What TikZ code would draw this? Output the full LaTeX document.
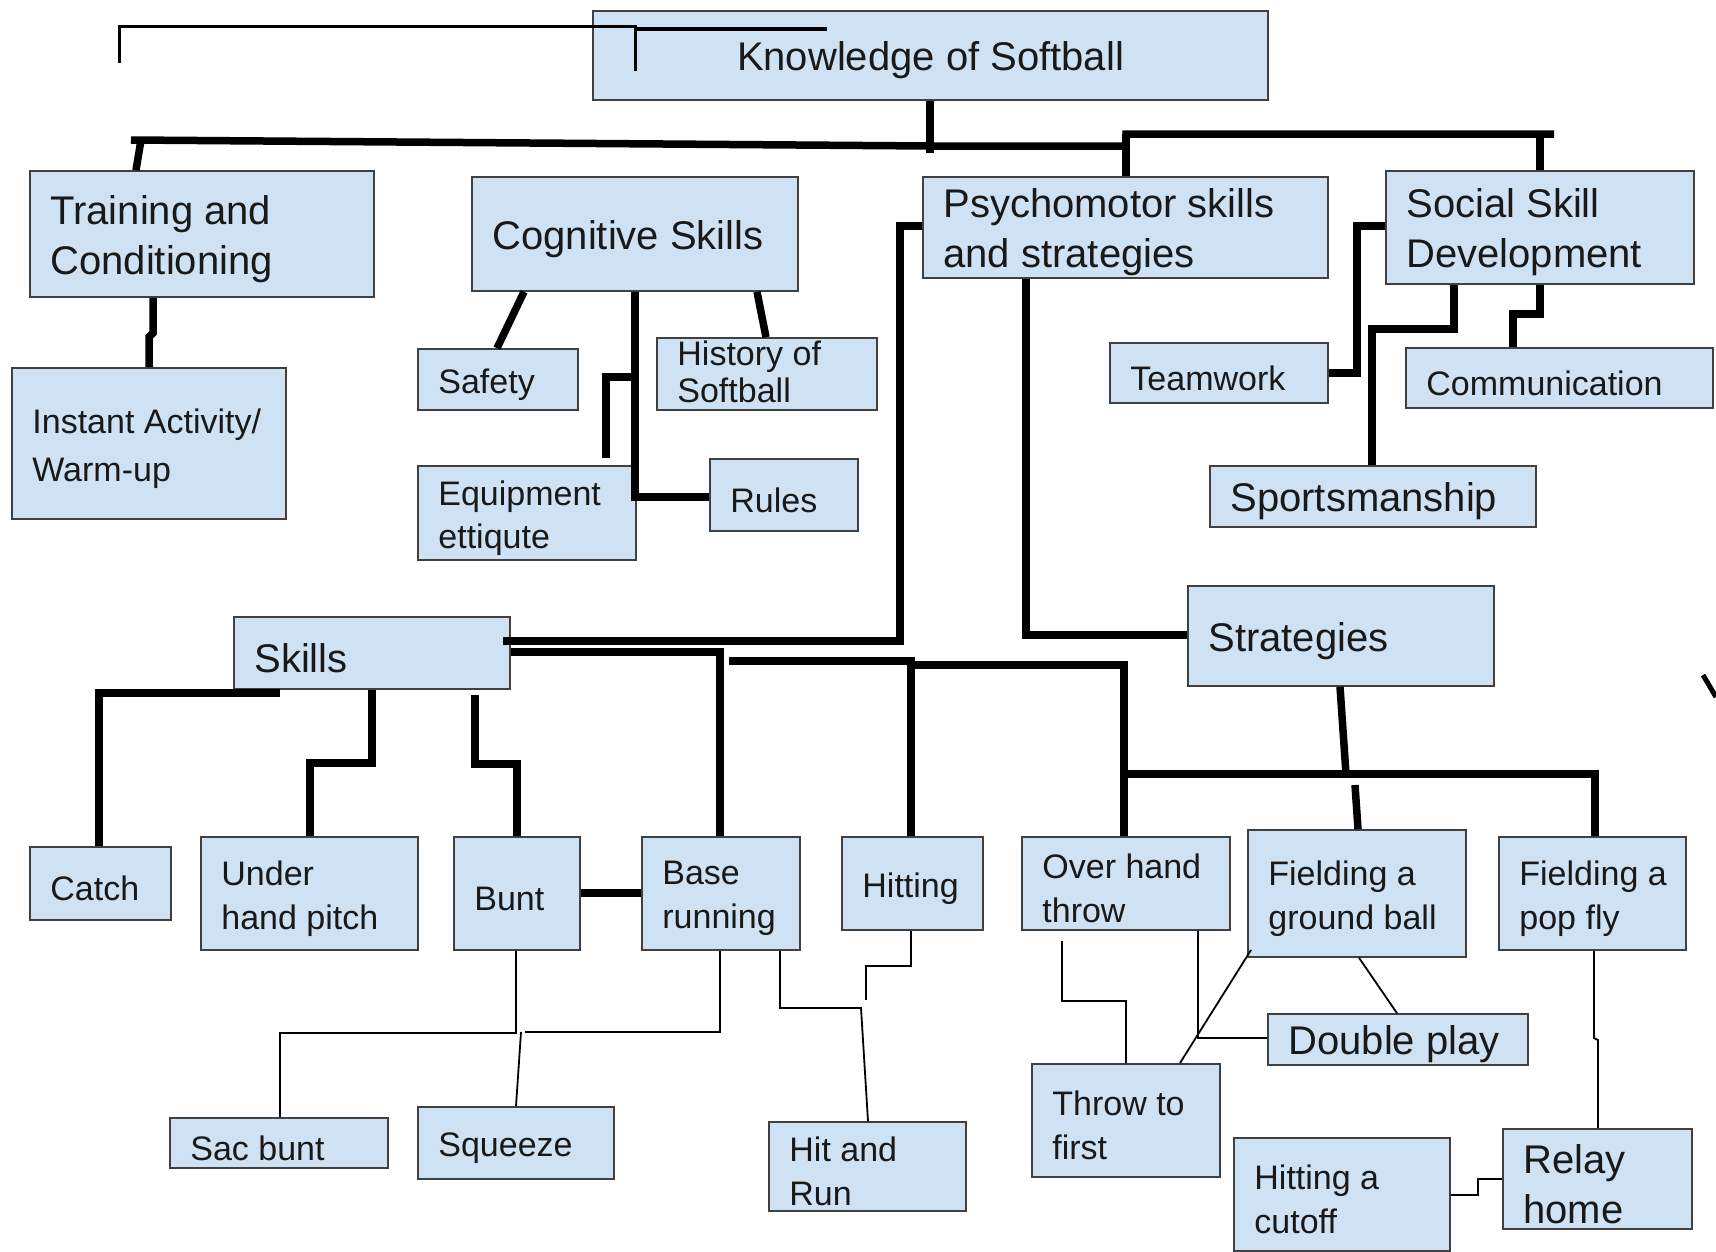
\documentclass[tikz,border=0pt]{standalone}
\usepackage{fontspec}
\setmainfont{Liberation Sans}
\definecolor{boxblue}{HTML}{CFE2F3}
\newcommand\fbig{\fontsize{40}{50}\selectfont}
\newcommand\fsmall{\fontsize{34}{43.5}\selectfont}
\tikzset{
  box/.style={draw=black!75,fill=boxblue,line width=1.6pt,inner sep=0pt},
  lbl/.style={anchor=west,align=left,inner sep=0pt,yshift=-5pt,font=\fsmall,text=black!90},
  thk/.style={line width=7.5pt},
  thn/.style={line width=1.8pt},
}
% box from (x1,y1) to (x2,y2), text 21pt in from the left
\newcommand\bx[7][]{%
  \node[box,minimum width={#5-#3},minimum height={#6-#4}] (#2) at ({(#3+#5)/2},{(#4+#6)/2}) {};
  \node[lbl,#1] (#2t) at ([xshift=21pt]#2.west) {#7};}

\begin{document}
\begin{tikzpicture}[x=1pt,y=-1pt]
  \fill[white] (0,0) rectangle (1716,1251);
  \useasboundingbox (0,0) rectangle (1716,1251);

  \node[box,minimum width=675,minimum height=89] (kn) at (930.5,55.5) {};
  \node[lbl,font=\fbig,anchor=center] (knt) at (kn.center) {Knowledge of Softball};

  \bx[font=\fbig]{trn}{30}{171}{374}{297}{Training and\\Conditioning}
  \bx[font=\fontsize{34}{48}\selectfont]{inst}{12}{368}{286}{519}{Instant Activity/\\Warm-up}
  \bx[font=\fbig]{cog}{472}{177}{798}{291}{Cognitive Skills}
  \bx{saf}{418}{349}{578}{410}{Safety}
  \bx[font=\fontsize{34}{37}\selectfont,yshift=7pt]{hist}{657}{338}{877}{410}{History of\\Softball}
  \bx{equip}{418}{466}{636}{560}{Equipment\\ettiqute}
  \bx{rules}{710}{459}{858}{531}{Rules}
  \bx[font=\fbig]{psy}{923}{177}{1328}{278}{Psychomotor skills\\and strategies}
  \bx[font=\fbig]{soc}{1386}{171}{1694}{284}{Social Skill\\Development}
  \bx{team}{1110}{343}{1328}{403}{Teamwork}
  \bx{comm}{1406}{348}{1713}{408}{Communication}
  \bx[font=\fbig]{sport}{1210}{466}{1536}{527}{Sportsmanship}
  \bx[font=\fbig]{skills}{234}{617}{510}{689}{Skills}
  \bx[font=\fbig]{strat}{1188}{586}{1494}{686}{Strategies}
  \bx{catch}{30}{847}{171}{920}{Catch}
  \bx{under}{201}{837}{418}{950}{Under\\hand pitch}
  \bx{bunt}{454}{837}{580}{950}{Bunt}
  \bx{base}{642}{837}{800}{950}{Base\\running}
  \bx{hit}{842}{837}{983}{930}{Hitting}
  \bx{over}{1022}{837}{1230}{930}{Over hand\\throw}
  \bx{fgb}{1248}{830}{1466}{957}{Fielding a\\ground ball}
  \bx{fpf}{1499}{837}{1686}{950}{Fielding a\\pop fly}
  \bx[font=\fbig]{dbl}{1268}{1014}{1528}{1065}{Double play}
  \bx{throw}{1032}{1064}{1220}{1177}{Throw to\\first}
  \bx{cutoff}{1234}{1138}{1450}{1251}{Hitting a\\cutoff}
  \bx[font=\fbig]{relay}{1503}{1129}{1692}{1229}{Relay\\home}
  \bx{hnr}{769}{1122}{966}{1211}{Hit and\\Run}
  \bx{sac}{170}{1118}{388}{1168}{Sac bunt}
  \bx{sqz}{418}{1107}{614}{1179}{Squeeze}

  % top bus
  \draw[thk] (kn.south -| 930,0) -- (930,153);
  \draw[thk] (131,140) -- (930,146) -- (1126,146) |- (1554,134);
  \draw[thk] (1126,134) -- (psy.north -| 1126,0);
  \draw[thk] (1540,134) -- (soc.north -| 1540,0);
  \draw[thk] (141,140) -- (trn.north -| 136,0);
  \draw[thk] (trn.south -| 153,0) -- (153,333) -- (149,337) -- (inst.north -| 149,0);

  % cognitive
  \draw[thk] (cog.south -| 524,0) -- (saf.north -| 497,0);
  \draw[thk] (cog.south -| 757,0) -- (hist.north -| 766,0);
  \draw[thk] (cog.south -| 635,0) |- (rules.west |- 0,497);
  \draw[thk] (635,377) -| (606,458);

  % psychomotor, social
  \draw[thk] (psy.west |- 0,226) -| (900,641) -- ([xshift=-8pt]skills.east |- 0,641);
  \draw[thk] (psy.south -| 1026,0) |- (strat.west |- 0,635);
  \draw[thk] (team.east |- 0,373) -| (1357,226) -- (soc.west |- 0,226);
  \draw[thk] (soc.south -| 1454,0) |- (1372,329) -- (sport.north -| 1372,0);
  \draw[thk] (soc.south -| 1540,0) |- (1513,314) -- (comm.north -| 1513,0);

  % skills
  \draw[thk] (280,693) -| (catch.north -| 99,0);
  \draw[thk] (skills.south -| 372,0) |- (310,763) -- (under.north -| 310,0);
  \draw[thk] (475,695) |- (517,764) -- (bunt.north -| 517,0);
  \draw[thk] (bunt.east |- 0,893) -- (base.west |- 0,893);
  \draw[thk] (skills.east |- 0,652) -| (base.north -| 720,0);
  \draw[thk] (729,661) -| (hit.north -| 911,0);
  \draw[thk] (911,665) -| (over.north -| 1124,0);

  % strategies
  \draw[thk] (strat.south -| 1340,0) -- (1346,774);
  \draw[thk] (1120,774) -| (fpf.north -| 1595,0);
  \draw[thk] (1355,785) -- (fgb.north -| 1358,0);

  % thin links
  \draw[thn] (bunt.south -| 516,0) -- (516,1033) -| (sac.north -| 280,0);
  \draw[thn] (base.south -| 720,0) |- (525,1032);
  \draw[thn] (521,1032) -- (sqz.north -| 516,0);
  \draw[thn] (base.south -| 780,0) |- (861,1008) -- (hnr.north -| 868,0);
  \draw[thn] (hit.south -| 911,0) |- (866,966) -- (866,1000);
  \draw[thn] (1062,941) |- (1126,1001) -- (throw.north -| 1126,0);
  \draw[thn] (over.south -| 1198,0) |- (dbl.west |- 0,1038);
  \draw[thn] (1251,950) -- (1180,1063);
  \draw[thn] (fgb.south -| 1359,0) -- (dbl.north -| 1397,0);
  \draw[thn] (fpf.south -| 1594,0) -- (1594,1038) -- (1598,1040) -- (relay.north -| 1598,0);
  \draw[thn] (cutoff.east |- 0,1195) -| (1478,1179) -- (relay.west |- 0,1179);

  % stray strokes
  \draw[line width=3pt] (119,63) -- (119,26) -- (635,26) -- (635,71);
  \draw[line width=4pt] (635,29) -- (827,29);
  \draw[line width=5pt] (1703,675) -- (1716,697);
\end{tikzpicture}
\end{document}
